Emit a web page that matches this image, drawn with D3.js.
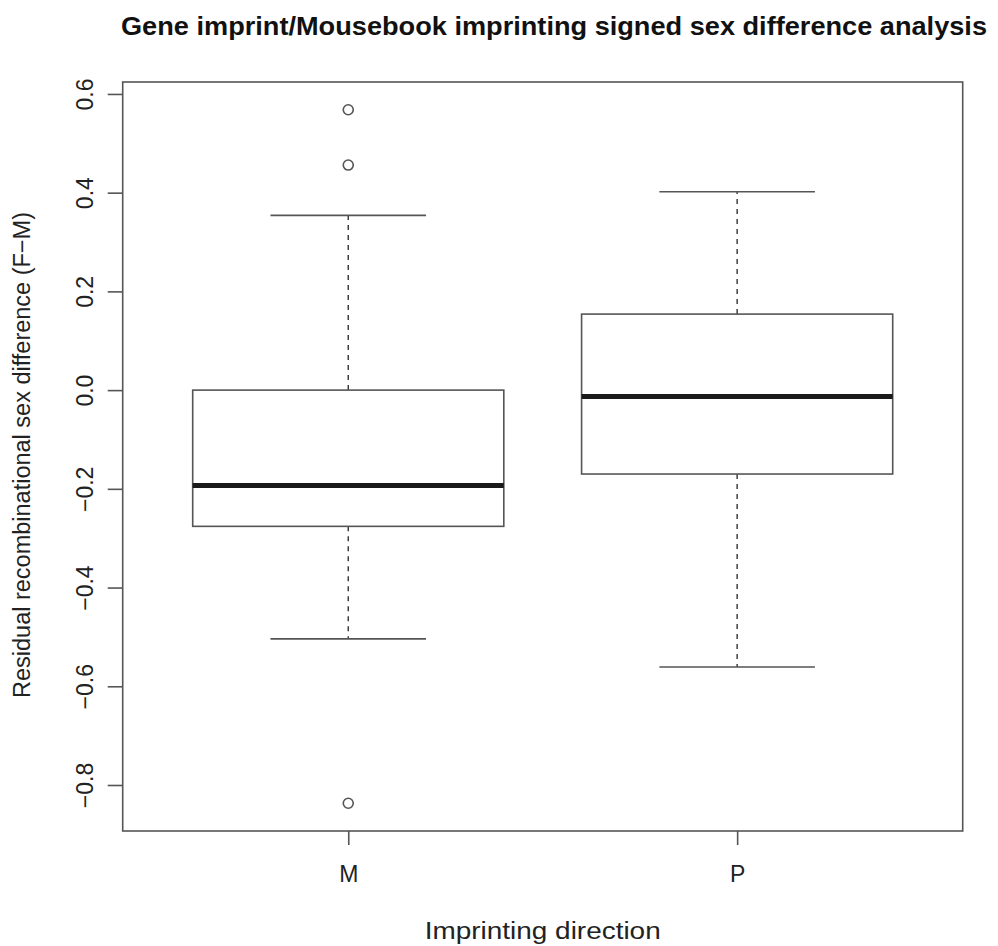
<!DOCTYPE html>
<html>
<head>
<meta charset="utf-8">
<script src="https://cdn.jsdelivr.net/npm/d3@7/dist/d3.min.js"></script>
<style>
  html, body { margin: 0; padding: 0; background: #fff; }
  svg { display: block; }
  text { font-family: "Liberation Sans", Arial, Helvetica, sans-serif; fill: #222; }
</style>
</head>
<body>
<svg id="chart" width="998" height="946"></svg>
<script>
// Imprinting direction groups
const categories = ["M", "P"];
// Box statistics per group: lower whisker, Q1, median, Q3, upper whisker
const lowerWhisker = [-0.504, -0.561];
const q1 = [-0.276, -0.170];
const median = [-0.193, -0.013];
const q3 = [0.000, 0.154];
const upperWhisker = [0.354, 0.402];
// Points beyond the whiskers
const outliersM = [0.568, 0.456, -0.837];
const outliersP = [];
const yTicks = [-0.8, -0.6, -0.4, -0.2, 0.0, 0.2, 0.4, 0.6];

const titleText = "Gene imprint/Mousebook imprinting signed sex difference analysis";
const xLabel = "Imprinting direction";
const yLabel = "Residual recombinational sex difference (F\u2212M)";

const groups = categories.map((c, i) => ({
  cat: c,
  lo: lowerWhisker[i], q1: q1[i], med: median[i], q3: q3[i], hi: upperWhisker[i],
  out: i === 0 ? outliersM : outliersP
}));

const svg = d3.select("#chart");
const plot = { left: 122.7, right: 962.7, top: 82, bottom: 831 };
const lineCol = "#555";

// y domain: data range padded by 4% on both ends
const allVals = groups.flatMap(g => [g.lo, g.hi, ...g.out]);
const [vmin, vmax] = d3.extent(allVals);
const pad = (vmax - vmin) * 0.04;
const y = d3.scaleLinear().domain([vmin - pad, vmax + pad]).range([plot.bottom, plot.top]);
const x = d3.scalePoint().domain(categories).range([plot.left, plot.right]).padding(0.58);
const step = x.step();
const boxHalf = step * 0.4;
const stapleHalf = step * 0.2;

// Whiskers (dashed) from box to staple
const g = svg.append("g");
groups.forEach(d => {
  const cx = x(d.cat);
  g.append("line").attr("x1", cx).attr("x2", cx).attr("y1", y(d.q3)).attr("y2", y(d.hi))
    .attr("stroke", "#333").attr("stroke-width", 1.4).attr("stroke-dasharray", "5,5");
  g.append("line").attr("x1", cx).attr("x2", cx).attr("y1", y(d.q1)).attr("y2", y(d.lo))
    .attr("stroke", "#333").attr("stroke-width", 1.4).attr("stroke-dasharray", "5,5");
  // Staples
  [d.hi, d.lo].forEach(v => {
    g.append("line").attr("x1", cx - stapleHalf).attr("x2", cx + stapleHalf)
      .attr("y1", y(v)).attr("y2", y(v)).attr("stroke", lineCol).attr("stroke-width", 1.6);
  });
  // Box
  g.append("rect").attr("x", cx - boxHalf).attr("width", boxHalf * 2)
    .attr("y", y(d.q3)).attr("height", y(d.q1) - y(d.q3))
    .attr("fill", "none").attr("stroke", lineCol).attr("stroke-width", 1.6);
  // Median
  g.append("line").attr("x1", cx - boxHalf).attr("x2", cx + boxHalf)
    .attr("y1", y(d.med)).attr("y2", y(d.med)).attr("stroke", "#1a1a1a").attr("stroke-width", 5);
  // Outliers
  g.selectAll(null).data(d.out).enter().append("circle")
    .attr("cx", cx).attr("cy", v => y(v)).attr("r", 5)
    .attr("fill", "none").attr("stroke", lineCol).attr("stroke-width", 1.6);
});

// Plot frame
svg.append("rect").attr("x", plot.left).attr("y", plot.top)
  .attr("width", plot.right - plot.left).attr("height", plot.bottom - plot.top)
  .attr("fill", "none").attr("stroke", lineCol).attr("stroke-width", 1.6);

// Y axis
const yAxis = svg.append("g").attr("transform", `translate(${plot.left},0)`)
  .call(d3.axisLeft(y).tickValues(yTicks).tickSize(15).tickFormat(d3.format(".1f")));
yAxis.select(".domain").remove();
yAxis.selectAll(".tick line").attr("stroke", lineCol).attr("stroke-width", 1.6);
yAxis.selectAll(".tick text")
  .attr("x", 0).attr("dy", 0)
  .attr("transform", "translate(-38,0) rotate(-90)")
  .attr("text-anchor", "middle").attr("dominant-baseline", "central")
  .style("font-size", "23px").style("fill", "#222")
  .text(d => d3.format(".1f")(d).replace("-", "\u2212"));

// X axis
const xAxis = svg.append("g").attr("transform", `translate(0,${plot.bottom})`)
  .call(d3.axisBottom(x).tickSize(14).tickPadding(21));
xAxis.select(".domain").remove();
xAxis.selectAll(".tick line").attr("stroke", lineCol).attr("stroke-width", 1.6);
xAxis.selectAll(".tick text").style("font-size", "23px").style("fill", "#222");

// Axis titles
svg.append("text").attr("x", (plot.left + plot.right) / 2).attr("y", 939)
  .attr("text-anchor", "middle").style("font-size", "23px")
  .attr("textLength", 236).attr("lengthAdjust", "spacingAndGlyphs").text(xLabel);
svg.append("text")
  .attr("transform", `translate(30,455) rotate(-90)`)
  .attr("text-anchor", "middle").style("font-size", "23px")
  .attr("textLength", 486).attr("lengthAdjust", "spacingAndGlyphs").text(yLabel);

// Title
svg.append("text").attr("x", 554).attr("y", 35)
  .attr("text-anchor", "middle").style("font-size", "25px").style("font-weight", "bold")
  .attr("textLength", 866).attr("lengthAdjust", "spacingAndGlyphs")
  .style("fill", "#111").text(titleText);
</script>
</body>
</html>
